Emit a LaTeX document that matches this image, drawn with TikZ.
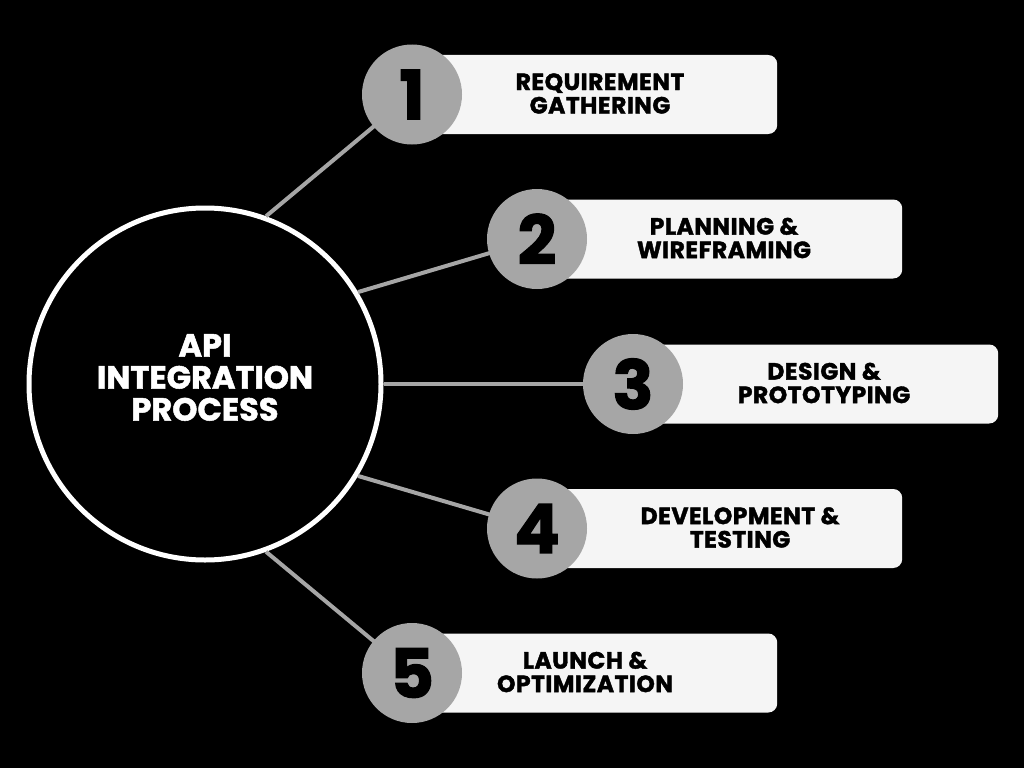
\documentclass[tikz,border=0pt]{standalone}
\usepackage{fontspec}
\setmainfont{Poppins}[BoldFeatures={FakeBold=1.6}]
\definecolor{barfill}{HTML}{F5F5F5}
\definecolor{numgray}{HTML}{A6A6A6}
\definecolor{linegray}{HTML}{A6A6A6}
\begin{document}
\begin{tikzpicture}[x=1pt,y=-1pt,
  bar/.style={rectangle, fill=barfill, rounded corners=9pt, draw=none, minimum width=365pt, minimum height=79pt, inner sep=0pt, anchor=west},
  numc/.style={circle, fill=numgray, minimum size=100pt, inner sep=0pt, font=\fontsize{68}{68}\selectfont\bfseries, text=black},
  lbl/.style={align=center, font=\fontsize{23.5}{23.5}\selectfont\bfseries\addfontfeatures{LetterSpace=2}, text=black, inner sep=0pt},
  link/.style={draw=linegray, line width=4pt}]
\fill[black] (0,0) rectangle (1024,768);
\useasboundingbox (0,0) rectangle (1024,768);
% hub
\node[circle, draw=white, line width=5pt, minimum size=352pt, inner sep=0pt] (hub) at (205,384) {};
\node[align=center, text=white, inner sep=0pt, font=\fontsize{32}{32}\selectfont\bfseries] (title) at (205,377.5) {API\\INTEGRATION\\PROCESS};
% positions
\coordinate (c1) at (412,94.5);
\coordinate (c2) at (537,239);
\coordinate (c3) at (633,384);
\coordinate (c4) at (537,528.5);
\coordinate (c5) at (412,673);
% links
\draw[link] (hub.70) -- (c1);
\draw[link] (hub.31) -- (c2);
\draw[link] (hub.0) -- (c3);
\draw[link] (hub.-31) -- (c4);
\draw[link] (hub.-70) -- (c5);
% bars
\node[bar] (b1) at (c1) {};
\node[bar] (b2) at (c2) {};
\node[bar] (b3) at (c3) {};
\node[bar] (b4) at (c4) {};
\node[bar] (b5) at (c5) {};
% number circles
\node[numc] (n1) at (c1) {1};
\node[numc] (n2) at (c2) {2};
\node[numc] (n3) at (c3) {3};
\node[numc] (n4) at (c4) {4};
\node[numc] (n5) at (c5) {5};
% labels
\node[lbl] (t1) at (600,93.5) {REQUIREMENT\\GATHERING};
\node[lbl] (t2) at (724,238) {PLANNING \&\\WIREFRAMING};
\node[lbl] (t3) at (824,383) {DESIGN \&\\PROTOTYPING};
\node[lbl] (t4) at (740,527.5) {DEVELOPMENT \&\\TESTING};
\node[lbl] (t5) at (585,672) {LAUNCH \&\\OPTIMIZATION};
\end{tikzpicture}
\end{document}
